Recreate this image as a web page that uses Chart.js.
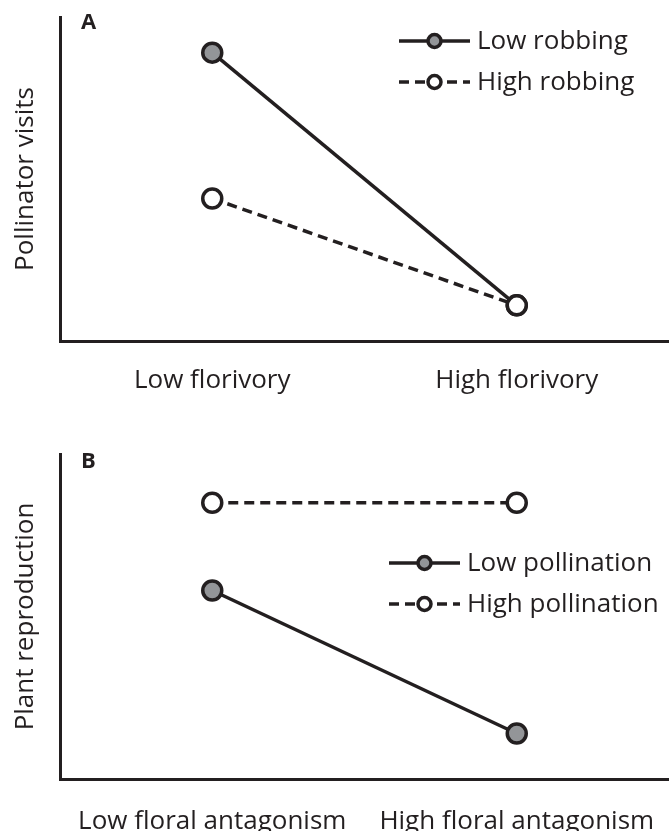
<!DOCTYPE html>
<html>
<head>
<meta charset="utf-8">
<script src="https://cdn.jsdelivr.net/npm/chart.js@4.4.0/dist/chart.umd.min.js"></script>
<style>
  html, body { margin: 0; padding: 0; background: #fff; }
  #wrapA { position: absolute; left: 0; top: 0; width: 669px; height: 410px; }
  #wrapB { position: absolute; left: 0; top: 410px; width: 669px; height: 421px; }
</style>
</head>
<body>
<div id="wrapA"><canvas id="chartA"></canvas></div>
<div id="wrapB"><canvas id="chartB"></canvas></div>
<script>
// Panel A values (no units on a 0-10 scale)
const categoriesA = ['Low florivory', 'High florivory'];
const lowRobbing = [8.9, 1.1];
const highRobbing = [4.4, 1.1];

// Panel B values
const categoriesB = ['Low floral antagonism', 'High floral antagonism'];
const lowPollination = [5.8, 1.4];
const highPollination = [8.5, 8.5];

const yRange = [0, 10];

const ink = '#231f20';
const grey = '#939598';
const fontFamily = '"Open Sans", Lato, sans-serif';

// Draws the little legend and the panel letter inside the plot
const panelExtras = {
    id: 'panelExtras',
    afterDraw(chart, args, opts) {
        const ctx = chart.ctx;
        ctx.save();

        // Panel letter
        ctx.fillStyle = ink;
        ctx.font = 'bold 22px ' + fontFamily;
        ctx.textBaseline = 'top';
        ctx.fillText(opts.letter, opts.letterX, opts.letterY);

        // Legend rows, one per dataset
        chart.data.datasets.forEach(function (ds, i) {
            const y = opts.legendTop + i * opts.rowGap;
            const x0 = opts.legendLeft;
            const x1 = x0 + opts.lineLen;

            ctx.lineWidth = 3.5;
            ctx.strokeStyle = ds.borderColor;
            ctx.setLineDash(ds.borderDash || []);
            ctx.beginPath();
            ctx.moveTo(x0, y);
            ctx.lineTo(x1, y);
            ctx.stroke();

            ctx.setLineDash([]);
            ctx.beginPath();
            ctx.arc((x0 + x1) / 2, y, 6.5, 0, Math.PI * 2);
            ctx.fillStyle = ds.pointBackgroundColor;
            ctx.fill();
            ctx.stroke();

            ctx.fillStyle = ink;
            ctx.font = '26px ' + fontFamily;
            ctx.textBaseline = 'middle';
            ctx.fillText(ds.label, x1 + 7, y + 1);
        });

        ctx.restore();
    }
};

function makeDataset(label, values, filled, dashed, order) {
    return {
        label: label,
        data: values,
        borderColor: ink,
        borderWidth: 3.5,
        borderDash: dashed ? [10, 6] : [],
        pointRadius: 9.5,
        pointHoverRadius: 9.5,
        pointBorderWidth: 3.5,
        pointBorderColor: ink,
        pointBackgroundColor: filled ? grey : '#ffffff',
        order: order,
        clip: false
    };
}

function makeChart(canvasId, categories, datasets, yTitle, layout, extras) {
    return new Chart(document.getElementById(canvasId), {
        type: 'line',
        data: { labels: categories, datasets: datasets },
        options: {
            responsive: true,
            maintainAspectRatio: false,
            animation: false,
            layout: {
                autoPadding: false,
                padding: { top: layout.top, right: 0, left: 0, bottom: 0 }
            },
            plugins: {
                legend: { display: false },
                tooltip: { enabled: false },
                panelExtras: extras
            },
            scales: {
                x: {
                    type: 'category',
                    offset: true,
                    grid: { display: false, drawTicks: false },
                    border: { display: true, width: 3, color: ink },
                    ticks: {
                        color: ink,
                        font: { family: fontFamily, size: 26 },
                        padding: layout.tickPad,
                        maxRotation: 0,
                        autoSkip: false
                    },
                    afterFit: function (scale) {
                        scale.height = layout.xHeight;
                        // keep the axis running to the right edge
                        scale.paddingLeft = 0;
                        scale.paddingRight = 0;
                    }
                },
                y: {
                    min: yRange[0],
                    max: yRange[1],
                    grid: { display: false, drawTicks: false },
                    border: { display: true, width: 3, color: ink },
                    ticks: { display: false },
                    title: {
                        display: true,
                        text: yTitle,
                        color: ink,
                        font: { family: fontFamily, size: 26 },
                        padding: { top: 10, bottom: 0 }
                    },
                    afterFit: function (scale) { scale.width = 60; }
                }
            }
        },
        plugins: [panelExtras]
    });
}

makeChart('chartA', categoriesA, [
    makeDataset('Low robbing', lowRobbing, true, false, 1),
    makeDataset('High robbing', highRobbing, false, true, 0)
], 'Pollinator visits',
    { top: 17, xHeight: 69, tickPad: 24 },
    { letter: 'A', letterX: 81, letterY: 12, legendLeft: 399, lineLen: 71, legendTop: 41, rowGap: 41 });

makeChart('chartB', categoriesB, [
    makeDataset('Low pollination', lowPollination, true, false, 0),
    makeDataset('High pollination', highPollination, false, true, 1)
], 'Plant reproduction',
    { top: 44, xHeight: 52, tickPad: 27 },
    { letter: 'B', letterX: 81, letterY: 41, legendLeft: 389, lineLen: 71, legendTop: 153, rowGap: 41 });
</script>
</body>
</html>
